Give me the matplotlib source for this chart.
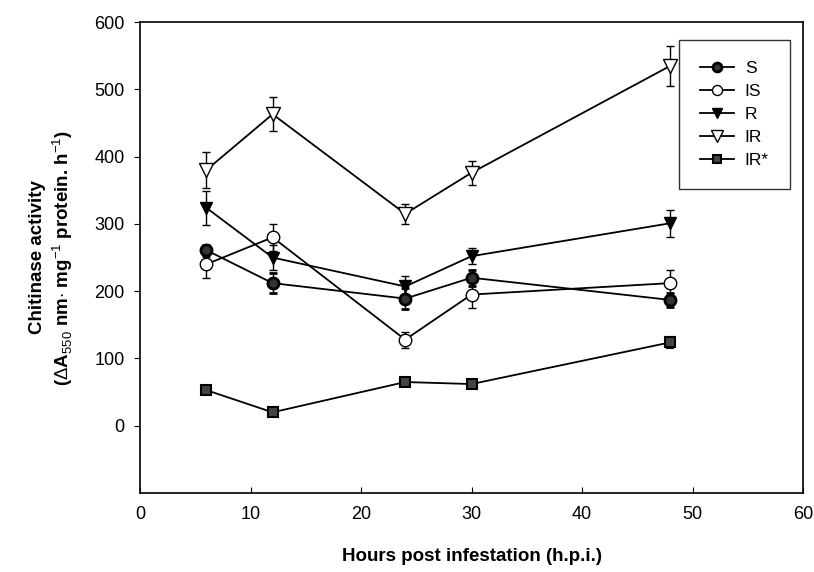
import matplotlib
matplotlib.use("Agg")
import matplotlib.pyplot as plt
from matplotlib.lines import Line2D

plt.rcParams['font.family'] = ['Liberation Sans', 'DejaVu Sans']
plt.rcParams['mathtext.fontset'] = 'custom'
plt.rcParams['mathtext.rm'] = 'Liberation Sans'
plt.rcParams['mathtext.bf'] = 'Liberation Sans:bold'

hours = [6, 12, 24, 30, 48]
S = [261, 212, 189, 220, 187]
S_err = [8, 15, 15, 12, 10]
IS = [240, 280, 128, 195, 212]
IS_err = [20, 20, 12, 20, 20]
R = [324, 250, 207, 252, 301]
R_err = [25, 18, 15, 12, 20]
IR = [380, 463, 315, 376, 535]
IR_err = [27, 25, 15, 18, 30]
IRs = [53, 20, 65, 62, 124]
IRs_err = [6, 5, 5, 5, 8]

fig = plt.figure(figsize=(8.14, 5.72), dpi=100)
ax = fig.add_axes([0.172, 0.138, 0.8145, 0.8235])

series = [
    ("S", S, S_err, dict(marker='o', mfc='#333333', mec='black', ms=8, mew=2)),
    ("IS", IS, IS_err, dict(marker='o', mfc='white', mec='black', ms=9, mew=1)),
    ("R", R, R_err, dict(marker='v', mfc='black', mec='black', ms=9, mew=1)),
    ("IR", IR, IR_err, dict(marker='v', mfc='white', mec='black', ms=10, mew=1)),
    ("IR*", IRs, IRs_err, dict(marker='s', mfc='#444444', mec='black', ms=7, mew=1.5)),
]
handles = []
for name, vals, err, st in series:
    ax.errorbar(hours, vals, yerr=err, color='black', lw=1.3, elinewidth=1,
                capsize=3, capthick=1, **st)
    handles.append(Line2D([], [], color='black', lw=1.3, label=name, **st))

ax.set_xlim(0, 60)
ax.set_ylim(-100, 600)
ax.set_xticks(range(0, 61, 10))
ax.set_yticks(range(0, 601, 100))
ax.tick_params(axis='both', labelsize=13, length=4)
ax.tick_params(axis='x', direction='in', pad=9)
ax.tick_params(axis='y', direction='out', pad=7)
for sp in ax.spines.values():
    sp.set_linewidth(1.2)

ax.set_xlabel("Hours post infestation (h.p.i.)", fontsize=13.5, fontweight='bold', labelpad=18)
ax.set_ylabel("Chitinase activity\n($\\Delta$A$_{550}$ nm$\\cdot$ mg$^{-1}$ protein. h$^{-1}$)",
              fontsize=13.5, fontweight='bold', labelpad=14)

leg = ax.legend(handles=handles, loc='upper right', bbox_to_anchor=(0.98, 0.962), frameon=True,
                fancybox=False, edgecolor='black', fontsize=12.5, handlelength=2.0,
                markerscale=0.8, borderpad=1.2, labelspacing=0.45, handletextpad=0.6,
                borderaxespad=0.0)
leg.get_frame().set_linewidth(1.0)

fig.savefig("out.png", dpi=100)
